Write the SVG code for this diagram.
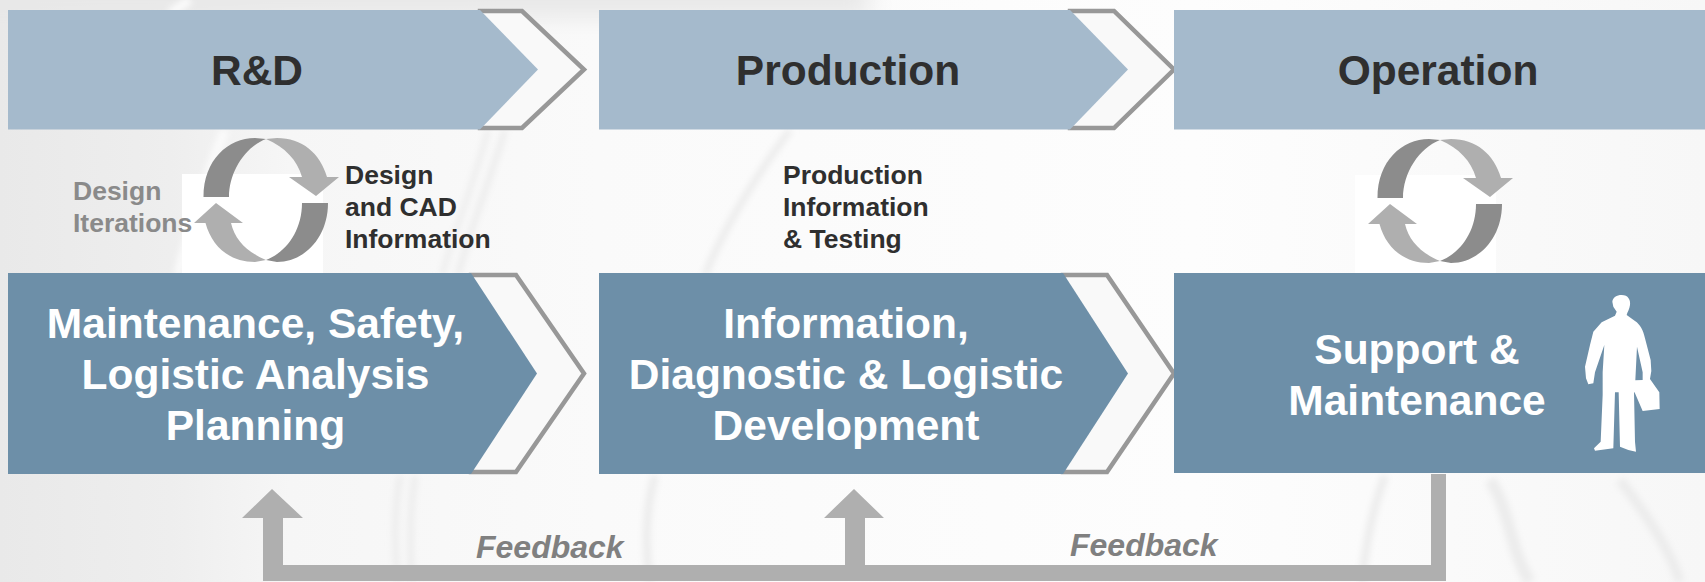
<svg xmlns="http://www.w3.org/2000/svg" width="1705" height="582" viewBox="0 0 1705 582">
<style>
text{font-family:"Liberation Sans",Arial,sans-serif;font-weight:bold}
.top{fill:#a5bacc}
.low{fill:#6d8fa8}
.chev{fill:#f9f9f9;stroke:#989898;stroke-width:4.500}
.h1{font-size:42.500px;fill:#2f2f2f;text-anchor:middle}
.h2{font-size:42.500px;fill:#fff;text-anchor:middle}
.s{font-size:26.500px;fill:#2f2f2f}
.g{font-size:26.500px;fill:#8a8a8a}
.fb{font-size:32px;font-style:italic;fill:#808080}
.dk{fill:#8c8c8c}
.lt{fill:#afafaf}
.st{fill:none;stroke:#ececec}
.wt{fill:none;stroke:#fbfbfb}
</style>
<defs>
<linearGradient id="bg" x1="0" y1="0" x2="1" y2="0">
<stop offset="0" stop-color="#e9e9e9"/>
<stop offset=".1" stop-color="#eeeeee"/>
<stop offset=".17" stop-color="#f6f6f6"/>
<stop offset=".35" stop-color="#fafafa"/>
<stop offset=".7" stop-color="#fdfdfd"/>
<stop offset="1" stop-color="#f7f7f7"/>
</linearGradient>
<filter id="b" x="-50%" y="-20%" width="200%" height="140%"><feGaussianBlur stdDeviation="3"/></filter>
<filter id="b2" x="-20%" y="-50%" width="140%" height="200%"><feGaussianBlur stdDeviation="12"/></filter>
<g id="cycle">
<path class="dk" d="M266 139L255 138C228 138 203.500 160 203.500 197H229C229 172 245 147 266 139Z"/>
<path class="lt" d="M266 139C285 147 297 160 302 177H289L316 196L339 177H327C320 153 302 138 277 138Z"/>
<path class="dk" d="M302 203H328C328 238 304 262 277 262L266 260C287 252 302 230 302 203Z"/>
<path class="lt" d="M266 260C247 252 235 240 231 223H243L216 203L194 223H205.500C212 247 230 262 255 262Z"/>
</g>
</defs>
<g id="background">
<rect width="1705" height="582" fill="url(#bg)"/>
<g filter="url(#b2)">
<rect x="-30" y="-30" width="900" height="48" fill="#e8e8e8"/>
</g>
<g filter="url(#b)">
<path class="wt" stroke-width="9" d="M225 130C205 180 190 230 178 275"/>
<path class="wt" stroke-width="9" d="M190 0C182 5 175 10 170 14"/>
<path class="st" stroke-width="6" d="M505 130C490 180 470 230 458 275"/>
<path class="st" stroke-width="5" d="M488 130C475 180 455 230 442 275"/>
<path class="st" stroke-width="7" d="M790 130C760 170 725 225 705 275"/>
<path class="st" stroke-width="5" d="M108 476C104 510 104 550 106 582"/>
<path class="st" stroke-width="6" d="M400 476C394 510 394 550 398 582"/>
<path class="st" stroke-width="6" d="M415 476C410 510 410 550 412 582"/>
<path class="st" stroke-width="8" d="M655 476C645 510 645 550 650 582"/>
<path class="st" stroke-width="8" d="M1385 476C1372 510 1365 550 1362 582"/>
<path class="st" stroke-width="12" d="M1490 480C1510 510 1510 550 1530 582"/>
<path class="st" stroke-width="10" d="M1620 480C1650 520 1670 550 1680 582"/>
</g>
<rect x="182" y="174" width="141" height="99" fill="#fff"/>
<rect x="1355" y="175" width="141" height="98" fill="#fff"/>
</g>
<g id="connectors">
<path class="lt" d="M272 489L303 518H283V565H845V518H824L854 489L884 518H865V565H1431V474H1446V581H263V518H242Z"/>
</g>
<g id="rd">
<path class="chev" d="M480 11H522L584 69.500L522 128H480Z"/>
<path class="top" d="M8 10H480L538 69.500L480 129.500H8Z"/>
<text class="h1" x="257" y="85">R&amp;D</text>
</g>
<g id="production">
<path class="chev" d="M1070 11H1114L1174 69.500L1114 128H1070Z"/>
<path class="top" d="M599 10H1070L1128 69.500L1070 129.500H599Z"/>
<text class="h1" x="848" y="85">Production</text>
</g>
<g id="operation">
<rect class="top" x="1174" y="10" width="531" height="119.500"/>
<text class="h1" x="1438" y="85">Operation</text>
</g>
<g id="design-cycle"><use href="#cycle"/></g>
<g id="operation-cycle"><use href="#cycle" x="1174" y="1"/></g>
<g id="design-iterations">
<text class="g" x="73" y="200">Design</text>
<text class="g" x="73" y="232">Iterations</text>
</g>
<g id="design-cad">
<text class="s" x="345" y="184">Design</text>
<text class="s" x="345" y="216">and CAD</text>
<text class="s" x="345" y="248">Information</text>
</g>
<g id="production-info">
<text class="s" x="783" y="184">Production</text>
<text class="s" x="783" y="216">Information</text>
<text class="s" x="783" y="248">&amp; Testing</text>
</g>
<g id="maintenance-planning">
<path class="chev" d="M471 275H516L584 373.500L516 472H471Z"/>
<path class="low" d="M8 273H471L537 373.500L471 474H8Z"/>
<text class="h2" x="255.500" y="338">Maintenance, Safety,</text>
<text class="h2" x="255.500" y="389">Logistic Analysis</text>
<text class="h2" x="255.500" y="440">Planning</text>
</g>
<g id="information-development">
<path class="chev" d="M1063 275H1107L1174 373.500L1107 472H1063Z"/>
<path class="low" d="M599 273H1063L1128 373.500L1063 474H599Z"/>
<text class="h2" x="846" y="338">Information,</text>
<text class="h2" x="846" y="389">Diagnostic &amp; Logistic</text>
<text class="h2" x="846" y="440">Development</text>
</g>
<g id="support-maintenance">
<rect class="low" x="1174" y="273" width="531" height="200"/>
<text class="h2" x="1417" y="364">Support &amp;</text>
<text class="h2" x="1417" y="415">Maintenance</text>
<path fill="#fff" fill-rule="evenodd" transform="matrix(.3333 0 0 .3333 1560 285)" d="M185 30C205 30 212 45 210 60C209 72 202 82 200 90L225 108C240 118 250 135 255 160L272 225L274 258L270 282L298 322L299 372L248 378L225 325L222 320L225 470L228 500L205 495L180 485L176 322H165L160 490L105 497L102 490L122 470L128 330L128 262L133 180L105 262L100 295L85 298L78 280L75 245L90 180L100 140L125 112L165 92L170 80L160 65L157 50C158 38 170 30 185 30ZM231 185L226 286L248 285L248 262Z"/>
</g>
<g id="feedback-labels">
<text class="fb" x="476" y="558">Feedback</text>
<text class="fb" x="1070" y="556">Feedback</text>
</g>
</svg>
